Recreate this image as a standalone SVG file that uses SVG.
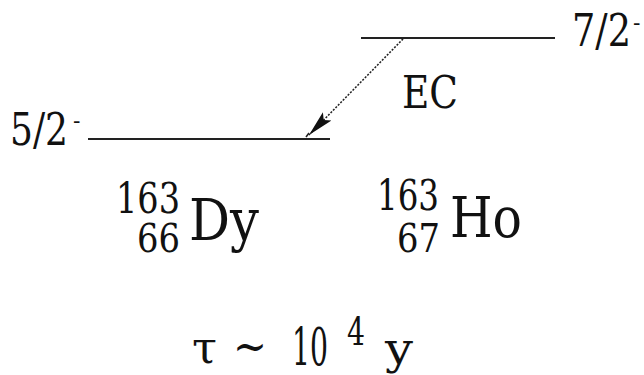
<svg xmlns="http://www.w3.org/2000/svg" width="644" height="375" viewBox="0 0 644 375">
<style>
  text { font-family: "DejaVu Serif", serif; fill: #111; }
  .lvl { stroke: #222; stroke-width: 2.2; }
  .ec { stroke: #222; stroke-width: 1.6; stroke-dasharray: 2 1.5; fill: none; }
</style>
<defs>
  <marker id="ah" markerUnits="userSpaceOnUse" markerWidth="30" markerHeight="20" refX="26" refY="8" orient="auto">
    <path d="M0,2 L26,8 L0,14 L5,8 Z" fill="#111"/>
  </marker>
</defs>
<rect width="644" height="375" fill="#fff"/>
<g id="level-ho">
  <line class="lvl" x1="361" y1="38" x2="555" y2="38"/>
  <text x="572" y="46" font-size="44" textLength="59" lengthAdjust="spacingAndGlyphs">7/2</text>
  <text x="633" y="30" font-size="22">-</text>
</g>
<g id="level-dy">
  <line class="lvl" x1="88" y1="139" x2="330" y2="139"/>
  <text x="10" y="145" font-size="44" textLength="58" lengthAdjust="spacingAndGlyphs">5/2</text>
  <text x="73" y="128" font-size="22">-</text>
</g>
<g id="connectors">
  <line class="ec" x1="403" y1="39" x2="309" y2="135" marker-end="url(#ah)"/>
  <line x1="306" y1="137" x2="309" y2="133" stroke="#222" stroke-width="1.5"/>
</g>
<g id="label-ec">
  <text x="402" y="108" font-size="44" textLength="56" lengthAdjust="spacingAndGlyphs">EC</text>
</g>
<g id="nuclide-dy">
  <text x="116" y="213" font-size="42" textLength="64" lengthAdjust="spacingAndGlyphs">163</text>
  <text x="137" y="252" font-size="40" textLength="43" lengthAdjust="spacingAndGlyphs">66</text>
  <text x="189" y="240" font-size="58" textLength="70" lengthAdjust="spacingAndGlyphs">Dy</text>
</g>
<g id="nuclide-ho">
  <text x="377" y="210" font-size="42" textLength="62" lengthAdjust="spacingAndGlyphs">163</text>
  <text x="397" y="252" font-size="40" textLength="43" lengthAdjust="spacingAndGlyphs">67</text>
  <text x="450" y="237" font-size="56" textLength="72" lengthAdjust="spacingAndGlyphs">Ho</text>
</g>
<g id="lifetime">
  <text x="192" y="363" font-size="44" textLength="25" lengthAdjust="spacingAndGlyphs">τ</text>
  <text x="233" y="362" font-size="46" textLength="34" lengthAdjust="spacingAndGlyphs">~</text>
  <text x="292" y="365" font-size="52" textLength="36" lengthAdjust="spacingAndGlyphs">10</text>
  <text x="347" y="345" font-size="40" textLength="18" lengthAdjust="spacingAndGlyphs">4</text>
  <text x="385" y="364" font-size="44" textLength="28" lengthAdjust="spacingAndGlyphs">y</text>
</g>
</svg>
